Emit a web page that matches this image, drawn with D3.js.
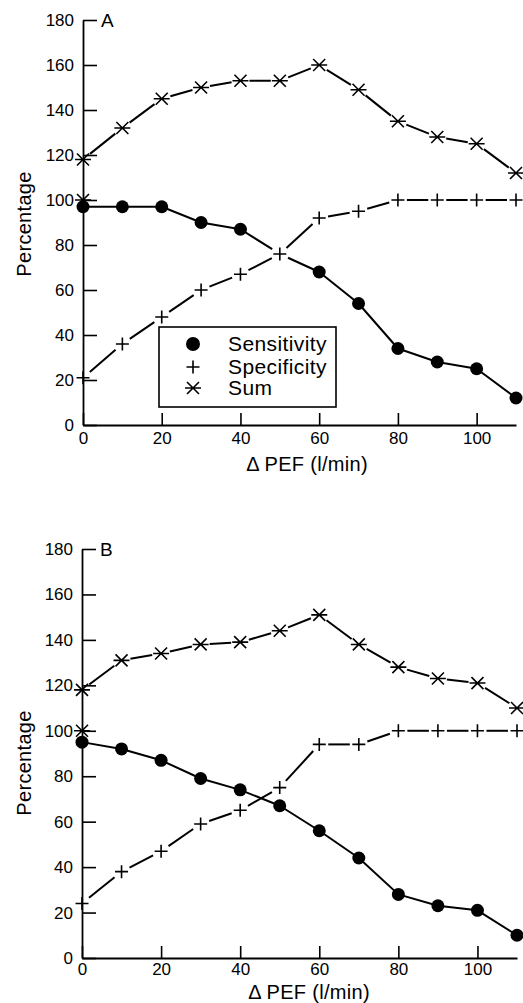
<!DOCTYPE html>
<html><head><meta charset="utf-8">
<script src="https://cdn.jsdelivr.net/npm/d3@7"></script>
<style>
html,body{margin:0;padding:0;background:#fff;}
svg{display:block;}
text{font-family:"Liberation Sans",Arial,Helvetica,sans-serif;fill:#000;}
</style></head>
<body>
<script>
// ---- data ----
const pef = [0,10,20,30,40,50,60,70,80,90,100,110];
const xTickValues = [0,20,40,60,80,100];
const yTickValues = [0,20,40,60,80,100,120,140,160,180];
const sensA = [97,97,97,90,87,76,68,54,34,28,25,12];
const specA = [21,36,48,60,67,76,92,95,100,100,100,100];
const sumA  = [118,132,145,150,153,153,160,149,135,128,125,112];
const sensB = [95,92,87,79,74,67,56,44,28,23,21,10];
const specB = [24,38,47,59,65,75,94,94,100,100,100,100];
const sumB  = [118,131,134,138,139,144,151,138,128,123,121,110];
const strayX = [0];
const strayY = [100];
const panelLabels = ["A","B"];
const legendLabels = ["Sensitivity","Specificity","Sum"];
const xTitle = "\u0394 PEF (l/min)";
const yTitle = "Percentage";

const W = 523, H = 1003;
const svg = d3.select("body").append("svg").attr("width",W).attr("height",H);

function starPath(cx,cy){
  const h=8,d=6;
  return `M${cx-h},${cy}L${cx+h},${cy}M${cx-d},${cy-d}L${cx+d},${cy+d}M${cx-d},${cy+d}L${cx+d},${cy-d}`;
}
function plusPath(cx,cy){
  const h=6.5;
  return `M${cx-h},${cy}L${cx+h},${cy}M${cx},${cy-h}L${cx},${cy+h}`;
}

function gappedSegments(g, pts, gapFn){
  for(let i=0;i<pts.length-1;i++){
    const a=pts[i], b=pts[i+1];
    const dx=b[0]-a[0], dy=b[1]-a[1], L=Math.hypot(dx,dy);
    const ga=gapFn(i), gb=gapFn(i+1);
    if(L<=ga+gb) continue;
    const ux=dx/L, uy=dy/L;
    g.append("line")
      .attr("x1",a[0]+ux*ga).attr("y1",a[1]+uy*ga)
      .attr("x2",b[0]-ux*gb).attr("y2",b[1]-uy*gb)
      .attr("stroke","#000").attr("stroke-width",2);
  }
}

function panel(cfg){
  const x = d3.scaleLinear().domain([0,110]).range([cfg.x0,cfg.x1]);
  const y = d3.scaleLinear().domain([0,180]).range([cfg.yb,cfg.yt]);
  const g = svg.append("g");

  // axes
  const ya = g.append("g").attr("transform",`translate(${cfg.x0},0)`)
    .call(d3.axisLeft(y).tickValues(yTickValues).tickSizeInner(-14).tickSizeOuter(0).tickPadding(9).tickFormat(d3.format("d")));
  const xa = g.append("g").attr("transform",`translate(0,${cfg.yb})`)
    .call(d3.axisBottom(x).tickValues(xTickValues).tickSizeInner(-12).tickSizeOuter(0).tickPadding(cfg.xpad).tickFormat(d3.format("d")));
  [ya,xa].forEach(a=>{
    a.select(".domain").attr("stroke","#000").attr("stroke-width",1.8);
    a.selectAll(".tick line").attr("stroke","#000").attr("stroke-width",1.6);
    a.selectAll(".tick text").attr("font-size",17).attr("font-family","Liberation Sans, Arial, sans-serif").attr("fill","#000");
  });

  // titles
  g.append("text").attr("x",cfg.xTitleX).attr("y",cfg.xTitleY).attr("text-anchor","middle")
    .attr("font-size",20).attr("letter-spacing",0.3).text(xTitle);
  g.append("text").attr("transform",`translate(31,${cfg.yTitleY}) rotate(-90)`).attr("text-anchor","middle")
    .attr("font-size",20).attr("letter-spacing",0.3).text(yTitle);
  g.append("text").attr("x",cfg.x0+18).attr("y",y(180)+7).attr("font-size",19).text(cfg.label);

  const sens = cfg.sens.map((v,i)=>[x(pef[i]),y(v)]);
  const spec = cfg.spec.map((v,i)=>[x(pef[i]),y(v)]);
  const sum  = cfg.sum.map((v,i)=>[x(pef[i]),y(v)]);
  const hidden = cfg.sens.map((v,i)=>v===cfg.spec[i]);

  // lines
  gappedSegments(g, sens, i=>hidden[i]?9:0);
  gappedSegments(g, spec, ()=>9);
  gappedSegments(g, sum, ()=>9);

  // markers
  g.selectAll(".dot").data(sens.filter((p,i)=>!hidden[i])).join("circle")
    .attr("cx",d=>d[0]).attr("cy",d=>d[1]).attr("r",6.5).attr("fill","#000");
  g.selectAll(".plus").data(spec).join("path")
    .attr("d",d=>plusPath(d[0],d[1])).attr("stroke","#000").attr("stroke-width",1.6).attr("fill","none");
  g.selectAll(".star").data(sum).join("path")
    .attr("d",d=>starPath(d[0],d[1])).attr("stroke","#000").attr("stroke-width",1.6).attr("fill","none");
  g.selectAll(".stray").data(strayX.map((v,i)=>[x(v),y(strayY[i])])).join("path")
    .attr("d",d=>starPath(d[0],d[1])).attr("stroke","#000").attr("stroke-width",1.6).attr("fill","none");

  if(cfg.legend){
    const L = cfg.legend;
    g.append("rect").attr("x",L.x).attr("y",L.y).attr("width",L.w).attr("height",L.h)
      .attr("fill","#fff").attr("stroke","#000").attr("stroke-width",1.6);
    const rows = [L.y+17, L.y+40, L.y+61];
    const mx = L.x+34;
    g.append("circle").attr("cx",mx).attr("cy",rows[0]).attr("r",7).attr("fill","#000");
    g.append("path").attr("d",plusPath(mx,rows[1])).attr("stroke","#000").attr("stroke-width",1.6);
    g.append("path").attr("d",starPath(mx,rows[2])).attr("stroke","#000").attr("stroke-width",1.6);
    legendLabels.forEach((t,i)=>{
      g.append("text").attr("x",L.x+69).attr("y",rows[i]+7).attr("font-size",21).attr("letter-spacing",0.4).text(t);
    });
  }
}

panel({x0:83,x1:516,yb:425,yt:20,xpad:7,label:panelLabels[0],sens:sensA,spec:specA,sum:sumA,
  xTitleX:307,xTitleY:471,yTitleY:224,legend:{x:159,y:327,w:177,h:80}});
panel({x0:82,x1:517,yb:958,yt:549,xpad:5,label:panelLabels[1],sens:sensB,spec:specB,sum:sumB,
  xTitleX:309,xTitleY:999,yTitleY:763});
</script>
</body></html>
